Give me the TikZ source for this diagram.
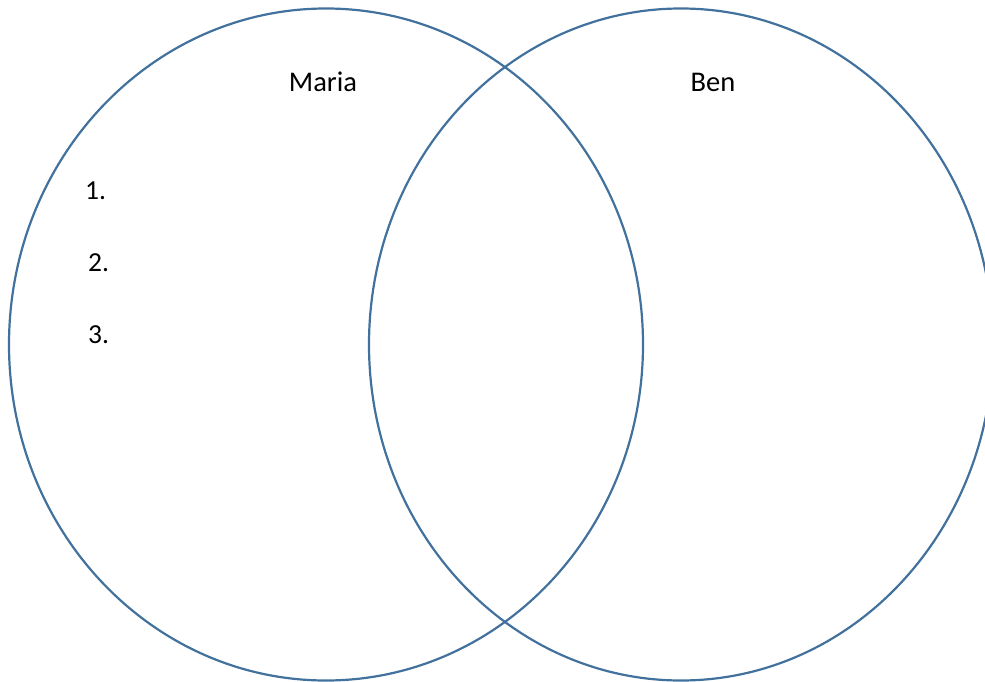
\documentclass[tikz,border=0pt]{standalone}
\usepackage{fontspec}
\setmainfont{Carlito}
\usepackage{xcolor}
\definecolor{contorno}{HTML}{41719C}

\begin{document}
\begin{tikzpicture}[
      x=1pt, y=-1pt,
      circulo/.style={draw=contorno, line width=2.2pt},
      nombre/.style={font=\fontsize{28.5}{34}\selectfont, anchor=base, inner sep=0pt},
      punto/.style={font=\fontsize{27.5}{33}\selectfont, anchor=base west, inner sep=0pt},
    ]
    % --- marco ---
    \useasboundingbox (0,0) rectangle (985,682);
    \clip (0,0) rectangle (985,682);

    % --- conjuntos ---
    \draw[circulo] (326,344.5) ellipse [x radius=317, y radius=336];
    \draw[circulo] (681,344.5) ellipse [x radius=312, y radius=336];

    % --- rótulos ---
    \node[nombre] (maria) at (323,92) {Maria};
    \node[nombre] (ben)   at (713,92) {Ben};

    % --- lista ---
    \node[punto] (uno)  at (85,199) {1.};
    \node[punto] (dos)  at (88,271) {2.};
    \node[punto] (tres) at (88,343) {3.};
\end{tikzpicture}
\end{document}
